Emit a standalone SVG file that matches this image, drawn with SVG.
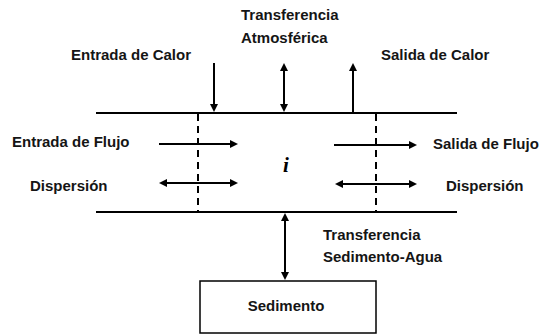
<svg xmlns="http://www.w3.org/2000/svg" width="543" height="334" viewBox="0 0 543 334">
<style>
.t{font-family:"Liberation Sans",Arial,sans-serif;font-weight:bold;font-size:15px;fill:#151515}
.ln{stroke:#000;stroke-width:2;fill:none}
.ar{stroke:#000;stroke-width:2;fill:none;marker-end:url(#ah)}
.dar{stroke:#000;stroke-width:2;fill:none;marker-start:url(#ah);marker-end:url(#ah)}
.dash{stroke:#000;stroke-width:2;stroke-dasharray:7,5;fill:none}
</style>
<defs>
<marker id="ah" viewBox="0 0 8 8" markerWidth="8" markerHeight="8" markerUnits="userSpaceOnUse" refX="1" refY="4" orient="auto-start-reverse">
<path d="M0,0 L8,4 L0,8 z" fill="#000"/>
</marker>
</defs>
<rect width="543" height="334" fill="#fff"/>
<g id="channel">
<line class="ln" x1="96" y1="113" x2="457" y2="113"/>
<line class="ln" x1="96" y1="212" x2="457" y2="212"/>
<line class="dash" x1="198" y1="114" x2="198" y2="211"/>
<line class="dash" x1="376" y1="114" x2="376" y2="211"/>
<text x="286" y="172" style="font-family:'Liberation Serif',serif;font-style:italic;font-weight:bold;font-size:21px" text-anchor="middle">i</text>
</g>
<g id="sedimento">
<rect x="200" y="281" width="176" height="52" fill="#fff" stroke="#000" stroke-width="1.5"/>
<text class="t" x="286" y="311" text-anchor="middle">Sedimento</text>
</g>
<g id="labels">
<text class="t" x="241" y="20">Transferencia</text>
<text class="t" x="241" y="43">Atmosférica</text>
<text class="t" x="71" y="60">Entrada de Calor</text>
<text class="t" x="381" y="60">Salida de Calor</text>
<text class="t" x="12" y="147">Entrada de Flujo</text>
<text class="t" x="433" y="149">Salida de Flujo</text>
<text class="t" x="30" y="191">Dispersión</text>
<text class="t" x="446" y="191">Dispersión</text>
<text class="t" x="323" y="240">Transferencia</text>
<text class="t" x="323" y="262">Sedimento-Agua</text>
</g>
<g id="connectors">
<line class="ar" x1="214" y1="63" x2="214" y2="105"/>
<line class="dar" x1="284" y1="70" x2="284" y2="105"/>
<line class="ar" x1="353" y1="113" x2="353" y2="70"/>
<line class="ar" x1="159" y1="144" x2="231" y2="144"/>
<line class="ar" x1="334" y1="145" x2="410" y2="145"/>
<line class="dar" x1="166" y1="183" x2="231" y2="183"/>
<line class="dar" x1="342" y1="184" x2="410" y2="184"/>
<line class="dar" x1="285" y1="220" x2="285" y2="273"/>
</g>
</svg>
